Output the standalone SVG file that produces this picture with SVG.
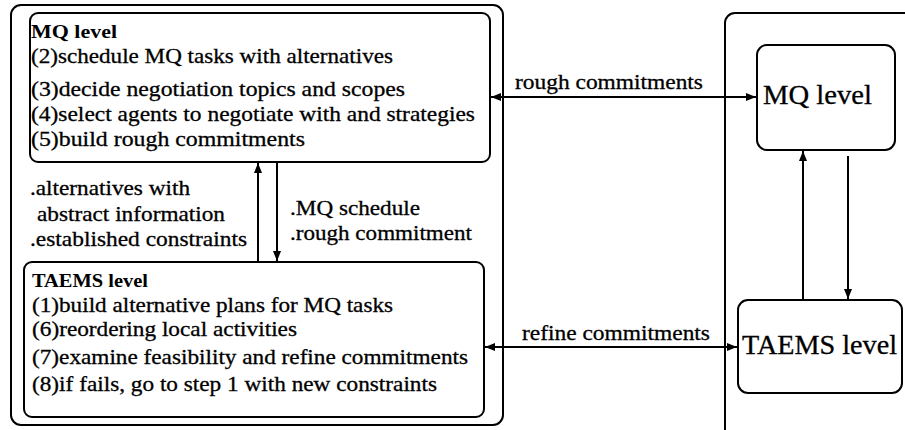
<svg xmlns="http://www.w3.org/2000/svg" width="905" height="430" viewBox="0 0 905 430">
<style>
.box{fill:none;stroke:#000;stroke-width:2}
.t{font-family:"Liberation Serif","Times New Roman",serif;font-size:21px;fill:#000;stroke:#000;stroke-width:0.3}
.h{font-family:"Liberation Serif","Times New Roman",serif;font-size:19px;font-weight:bold;fill:#000}
.big{font-family:"Liberation Serif","Times New Roman",serif;font-size:27px;fill:#000;stroke:#000;stroke-width:0.3}
.c{stroke:#000;stroke-width:2;fill:none}
</style>
<defs>
<marker id="ah" viewBox="0 0 10 8" refX="10" refY="4" markerWidth="10" markerHeight="8" markerUnits="userSpaceOnUse" orient="auto-start-reverse">
<path d="M0,0 L10,4 L0,8 Z" fill="#000"/>
</marker>
</defs>
<rect width="905" height="430" fill="#fff"/>
<g id="left-agent">
<rect class="box" x="11" y="5" width="492" height="420" rx="10"/>
</g>
<g id="right-agent">
<rect class="box" x="725" y="13" width="300" height="460" rx="10"/>
</g>
<g id="mq-left">
<rect class="box" x="30" y="13" width="460" height="149" rx="8"/>
<text class="h" x="31" y="38" textLength="86" lengthAdjust="spacingAndGlyphs">MQ level</text>
<text class="t" x="31" y="63" textLength="362" lengthAdjust="spacingAndGlyphs">(2)schedule MQ tasks with alternatives</text>
<text class="t" x="31" y="96" textLength="374" lengthAdjust="spacingAndGlyphs">(3)decide negotiation topics and scopes</text>
<text class="t" x="31" y="121" textLength="444" lengthAdjust="spacingAndGlyphs">(4)select agents to negotiate with and strategies</text>
<text class="t" x="31" y="146" textLength="274" lengthAdjust="spacingAndGlyphs">(5)build rough commitments</text>
</g>
<g id="taems-left">
<rect class="box" x="24" y="262" width="460" height="155" rx="8"/>
<text class="h" x="32" y="287" textLength="116" lengthAdjust="spacingAndGlyphs">TAEMS level</text>
<text class="t" x="32" y="312" textLength="361" lengthAdjust="spacingAndGlyphs">(1)build alternative plans for MQ tasks</text>
<text class="t" x="32" y="336" textLength="265" lengthAdjust="spacingAndGlyphs">(6)reordering local activities</text>
<text class="t" x="32" y="364" textLength="436" lengthAdjust="spacingAndGlyphs">(7)examine feasibility and refine commitments</text>
<text class="t" x="32" y="391" textLength="405" lengthAdjust="spacingAndGlyphs">(8)if fails, go to step 1 with new constraints</text>
</g>
<g id="mq-right">
<rect class="box" x="757" y="45" width="138" height="105" rx="10"/>
<text class="big" x="763" y="104" textLength="109" lengthAdjust="spacingAndGlyphs">MQ level</text>
</g>
<g id="taems-right">
<rect class="box" x="738" y="300" width="164" height="93" rx="10"/>
<text class="big" x="742" y="354" textLength="155" lengthAdjust="spacingAndGlyphs">TAEMS level</text>
</g>
<g id="connectors">
<line class="c" x1="258" y1="262" x2="258" y2="163" marker-end="url(#ah)"/>
<line class="c" x1="277" y1="162" x2="277" y2="261" marker-end="url(#ah)"/>
<line class="c" x1="491" y1="97" x2="756" y2="97" marker-start="url(#ah)" marker-end="url(#ah)"/>
<line class="c" x1="485" y1="347" x2="737" y2="347" marker-start="url(#ah)" marker-end="url(#ah)"/>
<line class="c" x1="803" y1="300" x2="803" y2="151" marker-end="url(#ah)"/>
<line class="c" x1="848" y1="156" x2="848" y2="299" marker-end="url(#ah)"/>
<text class="t" x="30" y="195" textLength="160" lengthAdjust="spacingAndGlyphs">.alternatives with</text>
<text class="t" x="37" y="221" textLength="188" lengthAdjust="spacingAndGlyphs">abstract information</text>
<text class="t" x="30" y="246" textLength="217" lengthAdjust="spacingAndGlyphs">.established constraints</text>
<text class="t" x="290" y="215" textLength="130" lengthAdjust="spacingAndGlyphs">.MQ schedule</text>
<text class="t" x="290" y="240" textLength="182" lengthAdjust="spacingAndGlyphs">.rough commitment</text>
<text class="t" x="515" y="89" textLength="188" lengthAdjust="spacingAndGlyphs">rough commitments</text>
<text class="t" x="522" y="340" textLength="188" lengthAdjust="spacingAndGlyphs">refine commitments</text>
</g>
</svg>
